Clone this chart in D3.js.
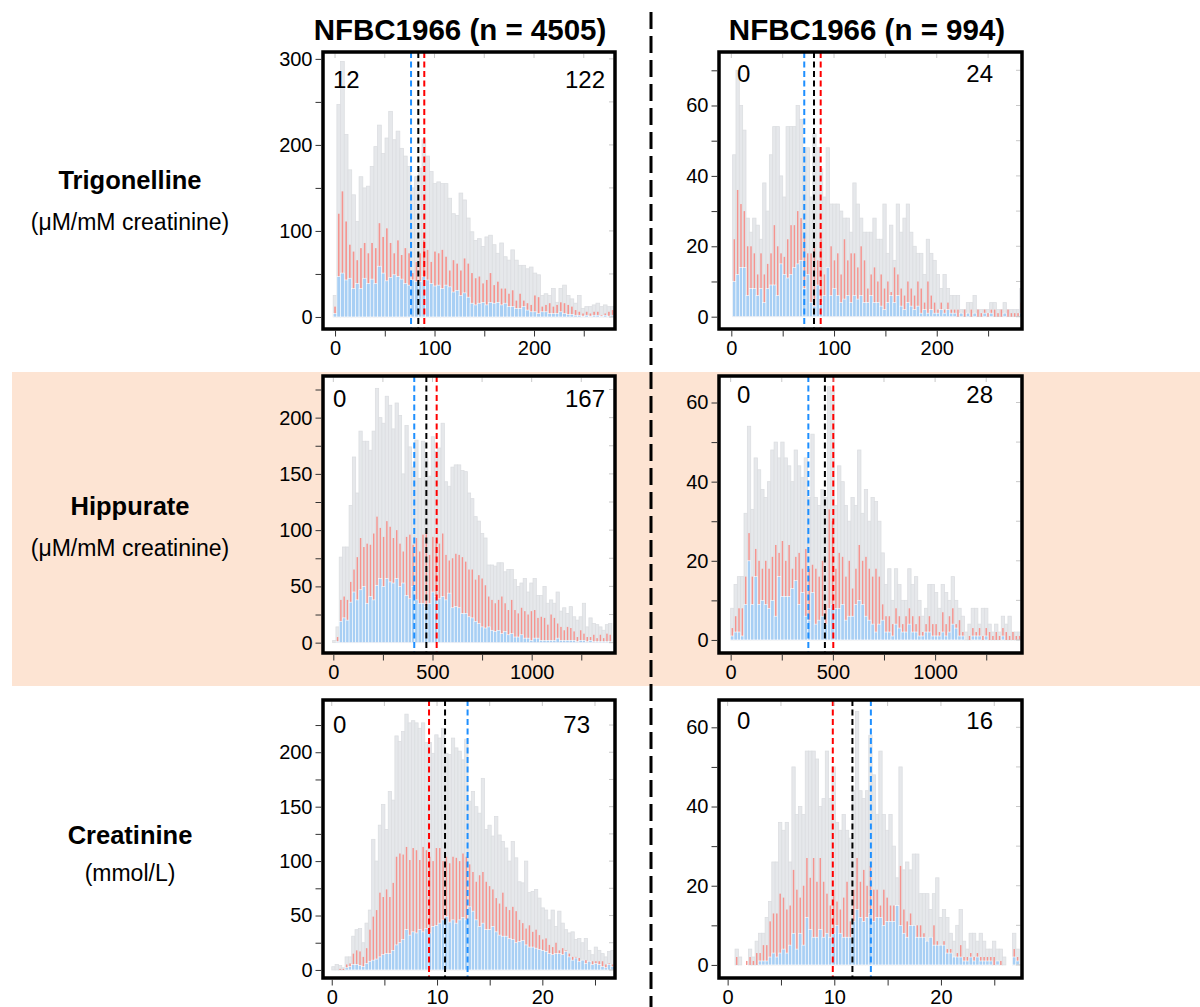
<!DOCTYPE html>
<html>
<head>
<meta charset="utf-8">
<script src="https://cdn.jsdelivr.net/npm/d3@7"></script>
<style>
  body { margin: 0; background: #fff; }
  text { font-family: "Liberation Sans", Arial, Helvetica, sans-serif; }
</style>
</head>
<body>
<svg id="chart" width="1200" height="1007"></svg>
<script>
// ---- labels ----
const columnTitles = ["NFBC1966 (n = 4505)", "NFBC1966 (n = 994)"];
const rowNames = ["Trigonelline", "Hippurate", "Creatinine"];
const rowUnits = ["(μM/mM creatinine)", "(μM/mM creatinine)", "(mmol/L)"];

// ---- histogram counts (grey = all, red and blue = subgroups) ----
// Trigonelline, n = 4505 (bins of 3.72 from 0)
const trigBigTotal = [25,247,297,212,171,142,111,163,150,152,175,198,223,190,208,239,206,216,196,187,175,150,163,173,206,187,169,155,157,155,155,138,120,118,144,136,115,99,89,91,82,93,95,84,74,86,70,66,78,66,60,60,56,58,51,49,25,27,25,33,17,33,37,25,21,16,25,10,12,12,14,16,12,14,12,12];
const trigBigRed = [12,120,146,111,84,76,66,80,86,74,86,80,109,93,103,86,74,89,72,80,74,51,64,74,89,78,64,76,74,78,70,54,66,62,54,68,62,51,45,47,39,43,51,37,41,33,33,27,31,19,27,19,16,14,25,23,12,14,16,12,14,17,16,14,12,8,6,4,6,4,6,6,2,4,6,8];
const trigBigBlue = [4,47,51,43,45,33,39,33,45,39,44,39,59,51,42,46,49,47,44,39,37,43,41,41,47,43,39,36,37,33,37,35,29,31,25,28,23,16,14,16,17,14,17,16,17,14,16,12,12,10,10,12,8,6,6,4,6,6,4,4,4,6,4,3,3,2,2,1,2,1,2,2,1,2,1,2];
// Trigonelline, n = 994 (bins of 3.25 from 2.9)
const trigSmallTotal = [46,70,60,53,28,24,28,26,22,38,30,46,54,54,40,34,54,54,54,60,56,48,48,34,52,48,42,34,48,32,32,32,30,28,28,24,38,32,28,24,24,24,28,22,22,32,18,26,16,32,24,28,32,24,20,18,18,12,22,18,16,12,8,12,8,6,6,6,2,2,4,4,6,2,2,2,2,4,4,2,2,4,2,2,2,2,8];
const trigSmallRed = [22,36,32,30,20,20,18,12,18,12,15,18,26,20,18,17,22,26,26,30,28,23,18,18,20,16,22,12,12,20,16,18,12,22,16,18,18,14,20,16,8,12,14,10,12,8,10,7,14,12,8,6,10,8,6,10,8,4,10,6,4,2,4,2,4,2,2,2,1,2,1,2,1,2,1,2,1,2,2,1,2,1,2,1,1,1,4];
const trigSmallBlue = [10,12,14,14,6,8,8,6,8,4,8,9,9,6,15,12,11,12,14,15,16,8,12,4,3,9,4,6,14,6,8,6,4,5,6,4,6,5,6,4,4,6,4,4,3,2,4,6,4,6,3,2,4,3,2,3,1,2,1,2,1,1,2,1,2,1,1,0,1,0,1,0,1,0,0,1,0,1,0,0,0,1,0,0,0,0,1];
// Hippurate, n = 4505 (bins of 16.56 from 5)
const hipBigTotal = [2,14,76,85,85,122,165,133,188,179,179,171,188,226,200,195,219,211,190,213,202,150,193,174,156,180,146,179,164,148,183,170,173,195,143,139,156,158,158,153,152,133,128,112,108,97,93,69,69,68,71,71,63,65,65,56,50,53,57,45,53,57,42,42,50,35,38,35,45,28,31,26,32,23,20,23,35,14,22,17,16,14,11,16,17];
const hipBigRed = [0,5,38,41,38,54,65,76,93,85,88,87,97,112,102,94,108,103,93,100,88,81,94,96,87,93,81,96,97,78,94,88,88,97,78,73,75,79,78,76,72,65,65,56,60,57,51,41,38,35,38,41,35,29,38,29,26,31,28,25,28,29,22,23,22,16,25,22,17,14,11,14,13,10,5,11,8,5,5,7,4,7,4,8,7];
const hipBigBlue = [0,1,19,22,20,36,45,38,47,50,35,41,38,51,57,50,57,54,53,57,50,53,42,39,50,38,35,35,32,35,45,41,39,41,38,44,31,32,31,26,26,23,22,19,17,14,13,14,11,10,11,8,10,7,8,5,5,7,4,4,2,4,4,2,2,2,2,2,4,2,2,2,2,2,1,2,2,1,2,1,1,1,1,1,1];
// Hippurate, n = 994 (bins of 16.34 from 8.2)
const hipSmallTotal = [8,14,16,16,32,54,33,46,43,38,36,40,48,50,46,50,46,44,40,48,44,41,46,36,52,36,34,38,36,64,63,34,44,40,34,30,36,34,48,32,38,30,36,35,30,22,14,18,10,18,14,10,10,18,14,16,10,6,8,14,14,12,8,14,12,10,16,10,8,6,2,4,8,8,4,8,8,4,2,4,2,6,4,6,2,2,2,6];
const hipSmallRed = [3,6,8,8,16,27,16,23,20,18,20,18,21,24,22,25,20,24,18,21,22,18,23,18,19,18,16,20,9,33,30,18,22,21,16,20,13,18,24,20,21,18,16,18,16,9,6,6,4,8,6,4,6,8,6,4,6,2,4,6,4,4,2,7,4,6,8,4,5,2,0,1,3,2,3,1,3,2,1,2,1,3,2,1,2,1,1,1];
const hipSmallBlue = [1,2,2,1,9,20,9,16,9,10,9,8,10,6,16,11,11,11,13,15,9,12,6,5,12,4,5,6,4,8,9,8,8,9,5,6,6,9,10,9,6,5,4,2,4,5,2,2,1,4,3,2,2,4,2,2,1,1,2,2,1,1,1,2,1,2,4,3,1,1,0,0,1,1,1,0,1,0,0,0,0,1,0,0,0,0,0,0];
// Creatinine, n = 4505 (bins of 0.3155 from 0.16)
const creBigTotal = [3,5,4,2,12,12,31,37,38,25,43,55,120,100,133,152,129,164,156,215,210,219,235,227,229,227,222,227,209,209,199,216,213,222,199,198,213,204,201,193,212,155,164,150,144,176,129,133,123,141,124,118,112,100,118,103,81,80,100,71,72,74,66,57,55,46,55,40,54,43,37,34,35,28,29,25,29,18,14,21,18,15,12,17,18];
const creBigRed = [0,0,1,1,5,6,15,18,17,12,20,37,49,55,71,67,74,67,80,104,107,106,113,101,112,110,101,113,110,104,100,112,112,100,104,98,104,103,100,107,104,97,90,81,87,90,81,77,74,66,61,71,58,55,58,54,46,43,38,41,35,37,32,28,29,23,21,25,18,20,18,15,12,12,11,9,9,8,8,8,8,8,5,6,5];
const creBigBlue = [0,0,0,0,2,3,5,5,4,3,6,8,9,10,12,14,15,15,18,23,25,28,37,32,35,34,37,35,38,34,40,41,43,46,49,44,46,43,46,48,46,58,54,46,40,43,37,37,40,35,32,31,31,29,28,25,26,27,23,21,21,20,19,18,17,15,14,15,15,14,17,12,9,11,8,9,6,8,5,6,5,3,2,5,3];
// Creatinine, n = 994 (bins of 0.3135 from 0.85)
const creSmallTotal = [4,2,0,0,4,2,6,8,8,12,16,26,26,36,34,36,26,50,38,40,38,54,54,54,52,40,42,54,42,50,36,34,38,34,32,44,64,44,42,44,58,48,38,54,38,34,38,30,22,50,24,26,24,28,28,18,18,18,14,18,22,12,14,12,8,6,10,14,6,4,8,8,6,8,6,4,4,6,4,4,2,0,0,8,4];
const creSmallRed = [2,0,0,1,2,1,3,3,5,5,11,13,13,18,17,14,15,24,19,17,20,27,22,27,21,27,21,18,15,19,16,14,17,21,11,19,27,21,24,20,25,19,19,15,19,17,15,15,12,25,14,11,13,10,10,10,8,6,6,10,6,5,6,4,4,2,3,5,2,2,3,2,3,2,2,2,2,2,1,1,0,0,0,4,2];
const creSmallBlue = [0,0,0,0,0,0,0,1,1,1,2,3,2,3,4,3,5,8,4,8,5,12,9,7,7,9,7,8,7,8,10,8,7,7,7,11,14,12,11,12,13,11,12,12,10,11,11,11,15,10,8,7,10,10,7,7,7,6,7,5,5,5,5,3,3,2,2,2,1,1,2,1,2,1,1,1,1,0,1,0,0,0,0,2,1];

// counts outside the shown range: [below, above]
const outsideCounts = [[12, 122], [0, 24], [0, 167], [0, 28], [0, 73], [0, 16]];
// reference lines: [blue, black, red]
const refLines = [[76.4, 83.7, 89.7], [71, 80.5, 87], [408, 469, 521], [380, 461, 502], [12.9, 10.76, 9.24], [13.43, 11.7, 9.86]];

// ---- panel definitions ----
const panels = [
  {row: 0, col: 0, total: trigBigTotal, red: trigBigRed, blue: trigBigBlue, start: 0, bin: 3.72,
   xDom: [-12.1, 281.4], yDom: [-14, 308], xStep: 50, xLab: 100, xMax: 250, yStep: 50, yLab: 100, yMax: 300},
  {row: 0, col: 1, total: trigSmallTotal, red: trigSmallRed, blue: trigSmallBlue, start: 2.9, bin: 3.25,
   xDom: [-12, 283], yDom: [-3.5, 75.2], xStep: 50, xLab: 100, xMax: 250, yStep: 10, yLab: 20, yMax: 70},
  {row: 1, col: 0, total: hipBigTotal, red: hipBigRed, blue: hipBigBlue, start: 5, bin: 16.56,
   xDom: [-52, 1420], yDom: [-9.2, 237], xStep: 250, xLab: 500, xMax: 1250, yStep: 25, yLab: 50, yMax: 225},
  {row: 1, col: 1, total: hipSmallTotal, red: hipSmallRed, blue: hipSmallBlue, start: 8.2, bin: 16.34,
   xDom: [-57, 1425], yDom: [-3.3, 66.7], xStep: 250, xLab: 500, xMax: 1250, yStep: 10, yLab: 20, yMax: 60},
  {row: 2, col: 0, total: creBigTotal, red: creBigRed, blue: creBigBlue, start: 0.16, bin: 0.3155,
   xDom: [-0.83, 26.9], yDom: [-7.4, 248], xStep: 5, xLab: 10, xMax: 25, yStep: 25, yLab: 50, yMax: 225},
  {row: 2, col: 1, total: creSmallTotal, red: creSmallRed, blue: creSmallBlue, start: 0.85, bin: 0.3135,
   xDom: [-0.81, 27.6], yDom: [-3.3, 66.9], xStep: 5, xLab: 10, xMax: 25, yStep: 10, yLab: 20, yMax: 60}
];

// layout
const colX = [[323, 615], [719, 1022]];
const rowY = [[52, 329], [376, 653], [700, 978]];
const countBase = [88, 82, 407, 403, 733, 729];
const countLeft = [333, 737, 333, 737, 333, 737];
const countRight = [605, 993, 605, 993, 590, 993];

const colors = {grey: "#e6e8eb", greyLine: "#dcdee1", red: "#f5948f", blue: "#a8cff4",
                lineBlue: "#1e8fff", lineBlack: "#000", lineRed: "#ff0000"};

const svg = d3.select("#chart");

// peach band behind the middle row
svg.append("rect").attr("x", 12).attr("y", 372).attr("width", 1188).attr("height", 314)
  .attr("fill", "#fde4d3");

// column divider
svg.append("line").attr("x1", 651).attr("x2", 651).attr("y1", 12).attr("y2", 1007)
  .attr("stroke", "#000").attr("stroke-width", 3).attr("stroke-dasharray", "17,7");

// column titles
columnTitles.forEach((t, i) => {
  svg.append("text").attr("x", i === 0 ? 460 : 867).attr("y", 40)
    .attr("text-anchor", "middle").attr("font-size", 29.5).attr("font-weight", "bold").text(t);
});

// row labels
const rowLabelY = [[189, 230], [515, 556], [844, 881]];
rowNames.forEach((n, i) => {
  svg.append("text").attr("x", 130).attr("y", rowLabelY[i][0]).attr("text-anchor", "middle")
    .attr("font-size", 25.5).attr("font-weight", "bold").text(n);
  svg.append("text").attr("x", 130).attr("y", rowLabelY[i][1]).attr("text-anchor", "middle")
    .attr("font-size", 23).text(rowUnits[i]);
});

panels.forEach((p, k) => {
  const [x0, x1] = colX[p.col];
  const [y0, y1] = rowY[p.row];
  const x = d3.scaleLinear().domain(p.xDom).range([x0, x1]);
  const y = d3.scaleLinear().domain(p.yDom).range([y1, y0]);

  const g = svg.append("g");
  g.append("rect").attr("x", x0).attr("y", y0).attr("width", x1 - x0).attr("height", y1 - y0).attr("fill", "#fff");

  const clipId = "clip" + k;
  g.append("clipPath").attr("id", clipId).append("rect")
    .attr("x", x0).attr("y", y0).attr("width", x1 - x0).attr("height", y1 - y0);
  const plot = g.append("g").attr("clip-path", `url(#${clipId})`);

  const bw = x(p.bin) - x(0);
  const cx = i => x(p.start + i * p.bin);

  plot.append("g").selectAll("rect").data(p.total).join("rect")
    .attr("x", (d, i) => cx(i) - bw / 2).attr("width", bw)
    .attr("y", d => y(d)).attr("height", d => y(0) - y(d))
    .attr("fill", colors.grey).attr("stroke", colors.greyLine).attr("stroke-width", 0.8);

  plot.append("g").selectAll("rect").data(p.red).join("rect")
    .attr("x", (d, i) => cx(i) - bw * 0.22).attr("width", bw * 0.44)
    .attr("y", d => y(d)).attr("height", d => y(0) - y(d))
    .attr("fill", colors.red);

  plot.append("g").selectAll("rect").data(p.blue).join("rect")
    .attr("x", (d, i) => cx(i) - bw / 2).attr("width", bw)
    .attr("y", d => y(d)).attr("height", d => y(0) - y(d))
    .attr("fill", colors.blue).attr("stroke", "#fff").attr("stroke-width", 0.6);

  // reference lines
  const lc = [colors.lineBlue, colors.lineBlack, colors.lineRed];
  refLines[k].forEach((v, j) => {
    g.append("line").attr("x1", x(v)).attr("x2", x(v)).attr("y1", y0).attr("y2", y1)
      .attr("stroke", lc[j]).attr("stroke-width", 2).attr("stroke-dasharray", "6,3.5");
  });

  // counts outside range
  g.append("text").attr("x", countLeft[k]).attr("y", countBase[k]).attr("font-size", 24).text(outsideCounts[k][0]);
  g.append("text").attr("x", countRight[k]).attr("y", countBase[k]).attr("font-size", 24)
    .attr("text-anchor", "end").text(outsideCounts[k][1]);

  // axes
  const xt = d3.range(0, p.xMax + 1e-9, p.xStep);
  const yt = d3.range(0, p.yMax + 1e-9, p.yStep);
  const fmt = step => v => (Math.round(v / step * 1000) % 1000 === 0 ? d3.format("d")(v) : "");

  const xa = svg.append("g").attr("transform", `translate(0,${y1 + 1.5})`)
    .call(d3.axisBottom(x).tickValues(xt).tickFormat(fmt(p.xLab)).tickSize(6).tickPadding(4));
  const ya = svg.append("g").attr("transform", `translate(${x0 - 1.5},0)`)
    .call(d3.axisLeft(y).tickValues(yt).tickFormat(fmt(p.yLab)).tickSize(6).tickPadding(3));
  [xa, ya].forEach(a => {
    a.select(".domain").remove();
    a.selectAll("text").attr("font-size", 20).attr("fill", "#000")
      .style("font-family", '"Liberation Sans", Arial, sans-serif');
    a.selectAll("line").attr("stroke", "#333");
  });

  // inner ticks on top and right
  g.selectAll(".tt").data(xt).join("line")
    .attr("x1", d => x(d)).attr("x2", d => x(d)).attr("y1", y0 + 1.5).attr("y2", y0 + 6)
    .attr("stroke", "#c8c8c8");
  g.selectAll(".rt").data(yt).join("line")
    .attr("x1", x1 - 1.5).attr("x2", x1 - 6).attr("y1", d => y(d)).attr("y2", d => y(d))
    .attr("stroke", "#c8c8c8");

  // frame
  g.append("rect").attr("x", x0).attr("y", y0).attr("width", x1 - x0).attr("height", y1 - y0)
    .attr("fill", "none").attr("stroke", "#000").attr("stroke-width", 3.5);
});
</script>
</body>
</html>
